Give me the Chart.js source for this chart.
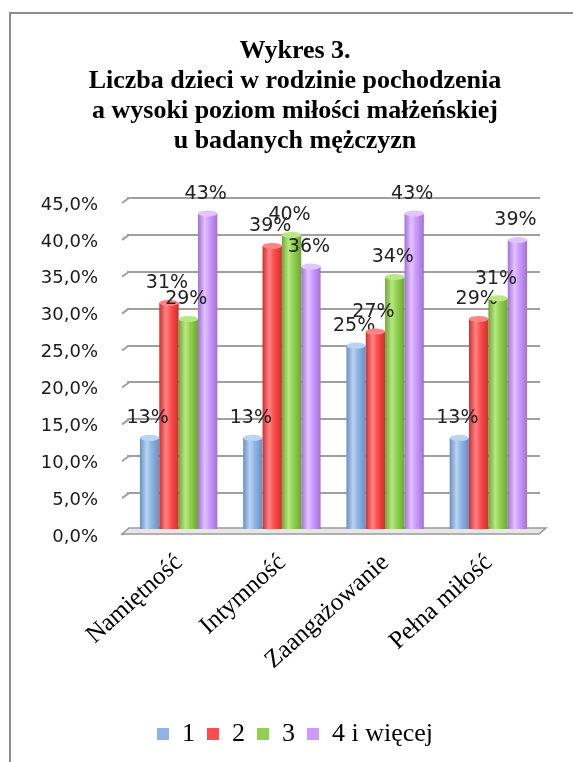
<!DOCTYPE html>
<html>
<head>
<meta charset="utf-8">
<script src="https://cdn.jsdelivr.net/npm/chart.js@4/dist/chart.umd.min.js"></script>
<style>
  html, body { margin: 0; padding: 0; background: #fff; }
  #wrap { position: relative; width: 573px; height: 762px; }
</style>
</head>
<body>
<div id="wrap"><canvas id="chart" width="573" height="762"></canvas></div>
<script>
// Dane wykresu
const categories = ['Namiętność', 'Intymność', 'Zaangażowanie', 'Pełna miłość'];
const seriesNames = ['1', '2', '3', '4 i więcej'];
const jedno = [12.5, 12.5, 25.0, 12.5];
const dwoje = [30.8, 38.5, 26.9, 28.6];
const troje = [28.6, 40.0, 34.3, 31.4];
const czworo = [42.9, 35.7, 42.9, 39.3];
const yTicks = [0, 5, 10, 15, 20, 25, 30, 35, 40, 45];

// kolory: [bazowy, jasny, ciemny]
const colors = [
    ['#8DB4E2', '#B9D3F2', '#6A90C0'],
    ['#FF4B4B', '#FF8585', '#CC3030'],
    ['#92D050', '#B8E884', '#6CA834'],
    ['#CC99FF', '#E2C4FF', '#A370D6']
];

const serifFont = '"Liberation Serif", "Times New Roman", serif';
const sansFont = '"DejaVu Sans", sans-serif';

// ramka, podłoga, cylindryczne słupki, etykiety wartości i kategorii
const decoPlugin = {
    id: 'deco',
    beforeDraw(chart) {
        const ctx = chart.ctx;
        ctx.save();
        ctx.strokeStyle = '#8c8c8c';
        ctx.lineWidth = 2;
        ctx.strokeRect(10, 13, 700, 900);
        ctx.restore();
    },
    beforeDatasetsDraw(chart) {
        const ctx = chart.ctx;
        const a = chart.chartArea;
        const ys = chart.scales.y;
        ctx.save();
        // skośne końcówki linii siatki
        ctx.strokeStyle = '#a0a0a0';
        ctx.lineWidth = 2;
        yTicks.forEach(v => {
            const py = ys.getPixelForValue(v);
            ctx.beginPath();
            ctx.moveTo(a.left - 5, py + 5);
            ctx.lineTo(a.left + 2, py);
            ctx.stroke();
        });
        // podłoga
        ctx.fillStyle = '#e6e6e6';
        ctx.strokeStyle = '#9a9a9a';
        ctx.lineWidth = 1.5;
        ctx.beginPath();
        ctx.moveTo(a.left - 5, a.bottom + 4);
        ctx.lineTo(a.left + 2, a.bottom - 2);
        ctx.lineTo(a.right + 6, a.bottom - 2);
        ctx.lineTo(a.right - 1, a.bottom + 4);
        ctx.closePath();
        ctx.fill();
        ctx.stroke();
        ctx.restore();

        chart.data.datasets.forEach((ds, i) => {
            const c = colors[i];
            chart.getDatasetMeta(i).data.forEach(bar => {
                const x0 = bar.x - bar.width / 2;
                const g = ctx.createLinearGradient(x0, 0, x0 + bar.width, 0);
                g.addColorStop(0, c[2]);
                g.addColorStop(0.35, c[1]);
                g.addColorStop(0.6, c[0]);
                g.addColorStop(1, c[2]);
                bar.options.backgroundColor = g;
            });
        });
    },
    afterDatasetsDraw(chart) {
        const ctx = chart.ctx;
        ctx.save();
        chart.data.datasets.forEach((ds, i) => {
            const c = colors[i];
            chart.getDatasetMeta(i).data.forEach((bar, j) => {
                // wieczko cylindra
                ctx.fillStyle = c[1];
                ctx.beginPath();
                ctx.ellipse(bar.x, bar.y, bar.width / 2, 3, 0, 0, Math.PI * 2);
                ctx.fill();
                // etykieta wartości
                ctx.fillStyle = '#222';
                ctx.font = '19px ' + sansFont;
                ctx.textAlign = 'center';
                ctx.textBaseline = 'bottom';
                ctx.fillText(Math.round(ds.data[j]) + '%', bar.x - 2, bar.y - 10);
            });
        });
        // etykiety kategorii, ukośnie, kończą się pod środkiem grupy
        const xs = chart.scales.x;
        ctx.fillStyle = '#000';
        ctx.font = '25px ' + serifFont;
        ctx.textAlign = 'right';
        ctx.textBaseline = 'top';
        categories.forEach((name, i) => {
            ctx.save();
            ctx.translate(xs.getPixelForTick(i) - 8, chart.chartArea.bottom + 20);
            ctx.rotate(-42 * Math.PI / 180);
            ctx.fillText(name, 0, 0);
            ctx.restore();
        });
        ctx.restore();
    }
};

const allSeries = [jedno, dwoje, troje, czworo];

new Chart(document.getElementById('chart').getContext('2d'), {
    type: 'bar',
    data: {
        labels: categories,
        datasets: allSeries.map((vals, i) => ({
            label: seriesNames[i],
            data: vals,
            backgroundColor: () => colors[i][0], // funkcja => osobne opcje dla każdego słupka
            borderWidth: 0,
            barPercentage: 1.0,
            categoryPercentage: 0.75
        }))
    },
    options: {
        responsive: false,
        animation: false,
        layout: { padding: { top: 36, left: 17, right: 0, bottom: 5 } },
        plugins: {
            title: {
                display: true,
                text: ['Wykres 3.', 'Liczba dzieci w rodzinie pochodzenia',
                       'a wysoki poziom miłości małżeńskiej', 'u badanych mężczyzn'],
                color: '#000',
                font: { family: serifFont, size: 26, weight: 'bold', lineHeight: '30px' },
                padding: { top: 0, bottom: 42 }
            },
            legend: {
                position: 'bottom',
                labels: {
                    color: '#000',
                    font: { family: serifFont, size: 26 },
                    boxWidth: 12,
                    boxHeight: 12,
                    padding: 12,
                    generateLabels: () => seriesNames.map((n, i) => ({
                        text: n,
                        fillStyle: colors[i][0],
                        strokeStyle: colors[i][0],
                        lineWidth: 0,
                        datasetIndex: i
                    }))
                }
            },
            tooltip: { enabled: false }
        },
        scales: {
            x: {
                grid: { display: false, drawTicks: false },
                border: { display: false },
                ticks: { display: false },
                afterFit: (scale) => { scale.height = 179; }
            },
            y: {
                min: 0,
                max: 45,
                afterBuildTicks: (scale) => { scale.ticks = yTicks.map(v => ({ value: v })); },
                grid: { color: '#a0a0a0', lineWidth: 2, drawTicks: false },
                border: { display: false },
                ticks: {
                    color: '#1a1a1a',
                    font: { family: sansFont, size: 18 },
                    padding: 29,
                    labelOffset: 7,
                    callback: (v) => v.toFixed(1).replace('.', ',') + '%'
                },
                afterFit: (scale) => { scale.width = 110; }
            },
            // pusty margines po prawej stronie obszaru wykresu
            yPrawa: {
                position: 'right',
                grid: { display: false, drawTicks: false },
                border: { display: false },
                ticks: { display: false },
                afterFit: (scale) => { scale.width = 33; }
            }
        }
    },
    plugins: [decoPlugin]
});
</script>
</body>
</html>
